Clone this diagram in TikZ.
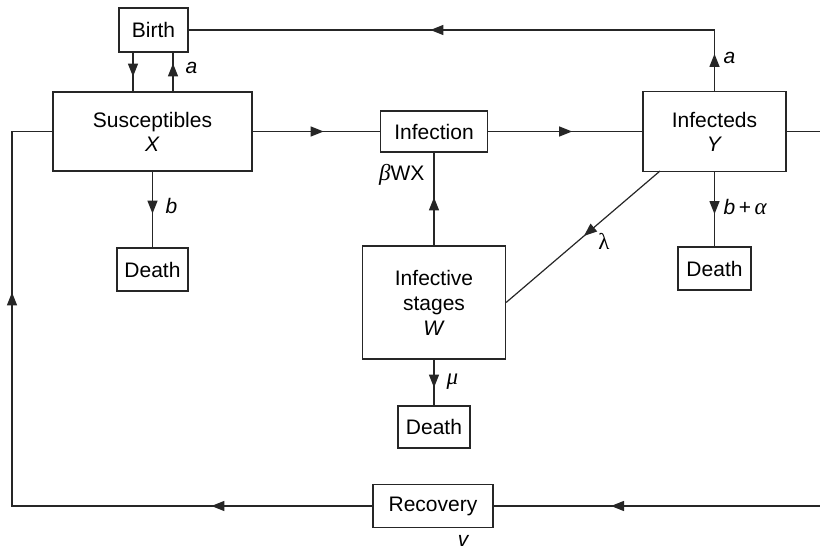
\documentclass[tikz,border=0pt]{standalone}
\usepackage{fontspec}
\setmainfont{Liberation Sans}
\newfontfamily\grk{Liberation Serif}
\usetikzlibrary{arrows.meta,decorations.markings}
\begin{document}
\begin{tikzpicture}[x=1pt,y=-1pt,
  line width=1.2pt, draw={black!85},
  font=\fontsize{21}{24}\selectfont,
  box/.style={draw, rectangle, inner sep=0pt, align=center},
  lbl/.style={inner sep=0pt, font=\fontsize{21}{24}\selectfont\itshape},
  flow/.style={postaction={decorate}, decoration={markings,
      mark=at position #1 with {\arrow{Triangle[length=13pt,width=10pt]}}}},
  flowtwo/.style 2 args={postaction={decorate}, decoration={markings,
      mark=at position #1 with {\arrow{Triangle[length=13pt,width=10pt]}},
      mark=at position #2 with {\arrow{Triangle[length=13pt,width=10pt]}}}}]
  \useasboundingbox (0,0) rectangle (820,551);

  % compartments and event boxes
  \node[box, minimum width=69pt, minimum height=44pt] (birth) at (153.5,30) {Birth};
  \node[box, minimum width=199pt, minimum height=79pt] (sus) at (152.5,131.5) {Susceptibles\\[0pt]\textit{X}};
  \node[box, minimum width=107pt, minimum height=41pt] (inf) at (434,131.5) {Infection};
  \node[box, minimum width=143pt, minimum height=80pt] (infd) at (714.5,131.5) {Infecteds\\[0pt]\textit{Y}};
  \node[box, minimum width=71pt, minimum height=43pt] (dS) at (152.5,269.5) {Death};
  \node[box, minimum width=143pt, minimum height=113pt] (wst) at (434,302.5) {Infective\\[1pt]stages\\[1pt]\textit{W}};
  \node[box, minimum width=72pt, minimum height=42pt] (dW) at (434,427) {Death};
  \node[box, minimum width=73pt, minimum height=43pt] (dY) at (714.5,268.5) {Death};
  \node[box, minimum width=120pt, minimum height=43pt] (rec) at (433,506) {Recovery};

  % loose ends at the picture edges
  \coordinate (cL) at (12,506);
  \coordinate (eR) at (820,131.5);
  \coordinate (eRb) at (820,506);
  \coordinate (lamS) at (660,171);

  % births
  \draw[flow=24pt] ([xshift=-20.5pt]birth.south) -- ([xshift=-20.5pt]birth.south |- sus.north);
  \draw[flow=28pt] ([xshift=20.5pt]sus.north) -- ([xshift=20.5pt]sus.north |- birth.south);
  \node[lbl, anchor=west] (la1) at (185,68) {a};
  \draw[flowtwo={37pt}{345pt}] (infd.north) |- (birth.east);
  \node[lbl, anchor=west] (la2) at (723,58) {a};

  % infection chain
  \draw[flow=71pt] (sus.east) -- (inf.west);
  \draw[flow=84pt] (inf.east) -- (infd.west);
  \draw (infd.east) -- (eR);
  \draw[flow=48pt] (wst.north) -- (inf.south);
  \node[inner sep=0pt, anchor=east] (lbwx) at (425,175) {{\grk\itshape\fontsize{23}{24}\selectfont β}WX};
  \draw[flow=100pt] (lamS) -- (wst.east);
  \node[inner sep=0pt] (llam) at (604,241) {\grk\fontsize{23}{24}\selectfont λ};

  % deaths
  \draw[flow=42pt] (sus.south) -- (dS.north);
  \node[lbl, anchor=west] (lb) at (165,206) {b};
  \draw[flow=42pt] (infd.south) -- (dY.north);
  \node[inner sep=0pt, anchor=west] (lba) at (723,207) {\textit{b}\,+\,{\grk\itshape\fontsize{23}{24}\selectfont α}};
  \draw[flow=28pt] (wst.south) -- (dW.north);
  \node[inner sep=0pt, anchor=west] (lmu) at (446,382) {\grk\itshape\fontsize{23}{24}\selectfont μ};

  % recovery loop
  \draw[flow=209pt] (eRb) -- (rec.east);
  \draw[flowtwo={161pt}{574pt}] (rec.west) -- (cL) |- (sus.west);
  \node[lbl] (lv) at (463,541) {v};
\end{tikzpicture}
\end{document}
